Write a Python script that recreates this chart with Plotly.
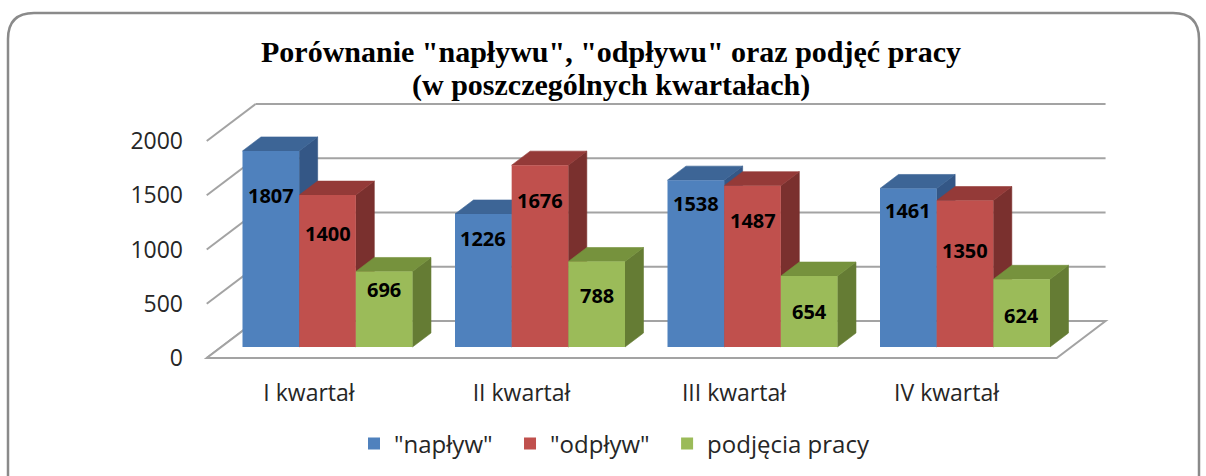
import plotly.graph_objects as go

# ---------------- data ----------------
categories = ["I kwartał", "II kwartał", "III kwartał", "IV kwartał"]
series_names = ['"napływ"', '"odpływ"', "podjęcia pracy"]
naplyw = [1807, 1226, 1538, 1461]
odplyw = [1400, 1676, 1487, 1350]
podjecia = [696, 788, 654, 624]
y_ticks = [0, 500, 1000, 1500, 2000]
title_lines = ['Porównanie "napływu", "odpływu" oraz podjęć pracy', "(w poszczególnych kwartałach)"]

series = [naplyw, odplyw, podjecia]

# ---------------- style ----------------
front_colors = ["#4F81BD", "#C0504D", "#9BBB59"]
top_colors = ["#3D6596", "#943A38", "#76923D"]
side_colors = ["#345786", "#7A302E", "#657C34"]
label_drop_px = [[45, 25, 23, 22], [38, 35, 35, 50], [18, 34, 35, 36]]
legend_pad = ["\u00a0\u00a0", "\u00a0\u00a0", ""]
TXT = "#262626"
GRID = "#A3A3A3"

W, H = 1206, 476
L, R, T, B = 195, 1112, 100, 362      # plot area in px
PXX = 212.5                           # px per category
PXY = 0.1085                          # px per value unit
X0_PX = 327.5                         # px of first category centre (bar front plane)
ZERO_PX = 347                         # px of value 0 (bar front plane)
GROUP_W = 0.8
BW = GROUP_W / 3

x_range = [-(X0_PX - L) / PXX, (R - X0_PX) / PXX]
y_range = [-(B - ZERO_PX) / PXY, (ZERO_PX - T) / PXY]


def depth(px_up):
    """depth vector in data units for a given vertical pixel rise"""
    return px_up * 1.32 / PXX, px_up / PXY


BAR_DX, BAR_DY = depth(14)
FLOOR_DX, FLOOR_DY = depth(-11)
WALL_DX, WALL_DY = depth(26)
LABEL_DX = 18.5 / PXX


def px(xp):
    return (xp - L) / (R - L)


def py(yp):
    return (B - yp) / (B - T)


fig = go.Figure()

# side and top faces (base subplot, under the front faces)
for i, vals in enumerate(series):
    sx, sy, tx, ty = [], [], [], []
    for g, v in enumerate(vals):
        left = g - GROUP_W / 2 + i * BW
        right = left + BW
        sx += [right, right + BAR_DX, right + BAR_DX, right, right, None]
        sy += [0, BAR_DY, v + BAR_DY, v, 0, None]
        tx += [left, right, right + BAR_DX, left + BAR_DX, left, None]
        ty += [v, v, v + BAR_DY, v + BAR_DY, v, None]
    fig.add_trace(go.Scatter(x=sx, y=sy, mode="lines", fill="toself",
                             fillcolor=side_colors[i], line=dict(color=side_colors[i], width=0.6),
                             showlegend=False, hoverinfo="skip", xaxis="x", yaxis="y"))
    fig.add_trace(go.Scatter(x=tx, y=ty, mode="lines", fill="toself",
                             fillcolor=top_colors[i], line=dict(color=top_colors[i], width=0.6),
                             showlegend=False, hoverinfo="skip", xaxis="x", yaxis="y"))

# front faces (real bars, overlay subplot)
xs = list(range(len(categories)))
for i, vals in enumerate(series):
    fig.add_trace(go.Bar(x=xs, y=vals, width=BW, offset=-GROUP_W / 2 + i * BW,
                         name=series_names[i] + legend_pad[i],
                         marker=dict(color=front_colors[i], line=dict(width=0)),
                         xaxis="x2", yaxis="y2", hoverinfo="y"))

# invisible anchor for the label axes
fig.add_trace(go.Scatter(x=[0], y=[0], mode="markers", marker=dict(opacity=0),
                         showlegend=False, hoverinfo="skip", xaxis="x3", yaxis="y3"))

# data labels
annotations = []
for i, vals in enumerate(series):
    for g, v in enumerate(vals):
        annotations.append(dict(x=g - GROUP_W / 2 + (i + 0.5) * BW, y=v, xref="x2", yref="y2",
                                yshift=-label_drop_px[i][g], text=str(v), showarrow=False,
                                yanchor="middle",
                                font=dict(family="Open Sans", size=20, color="black", weight="bold")))

# title (two lines)
for line, yc in zip(title_lines, [52, 85]):
    annotations.append(dict(x=px(611), y=py(yc), xref="paper", yref="paper", text="<b>" + line + "</b>",
                            showarrow=False, xanchor="center", yanchor="middle",
                            font=dict(family="Liberation Serif", size=30, color="black")))

# walls and floor
shapes = []
xl, xr = -0.5, len(categories) - 0.5
for t in y_ticks:
    shapes.append(dict(type="line", xref="x", yref="y", layer="below",
                       x0=xl + WALL_DX, x1=xr + WALL_DX, y0=t + WALL_DY, y1=t + WALL_DY,
                       line=dict(color=GRID, width=2)))
    shapes.append(dict(type="line", xref="x", yref="y", layer="below",
                       x0=xl + FLOOR_DX, x1=xl + WALL_DX, y0=t + FLOOR_DY, y1=t + WALL_DY,
                       line=dict(color=GRID, width=2)))
floor = "M {a},{b} L {c},{b} L {d},{e} L {f},{e} Z".format(
    a=xl + FLOOR_DX, b=FLOOR_DY, c=xr + FLOOR_DX, d=xr + WALL_DX, e=WALL_DY, f=xl + WALL_DX)
shapes.append(dict(type="path", path=floor, xref="x", yref="y", layer="below",
                   fillcolor="white", line=dict(color=GRID, width=2)))

# rounded outer border (paper coordinates)
bl, bt, br, bb, rad = 8, 13, 1199, 479, 26
border = ("M {x0},{yb} L {x0},{y1} Q {x0},{yt} {x1},{yt} L {x2},{yt} Q {x3},{yt} {x3},{y1} "
          "L {x3},{yb}").format(x0=px(bl), x1=px(bl + rad), x2=px(br - rad), x3=px(br),
                                yt=py(bt), y1=py(bt + rad), yb=py(bb))
shapes.append(dict(type="path", path=border, xref="paper", yref="paper", layer="above",
                   line=dict(color="#8A8A8A", width=2.5)))

hidden = dict(showgrid=False, zeroline=False, showticklabels=False, showline=False,
              ticks="", fixedrange=True)

fig.update_layout(
    width=W, height=H, autosize=False,
    margin=dict(l=L, r=W - R, t=T, b=H - B, pad=0),
    paper_bgcolor="white", plot_bgcolor="rgba(0,0,0,0)",
    xaxis=dict(range=x_range, **hidden),
    yaxis=dict(range=y_range, **hidden),
    xaxis2=dict(range=x_range, overlaying="x", anchor="y2", **hidden),
    yaxis2=dict(range=y_range, overlaying="y", anchor="x2", **hidden),
    xaxis3=dict(range=[x_range[0] + LABEL_DX, x_range[1] + LABEL_DX], overlaying="x", anchor="y3",
                tickvals=xs, ticktext=categories, showgrid=False, zeroline=False, showline=False,
                ticks="", ticklabelstandoff=15, fixedrange=True,
                tickfont=dict(family="Open Sans", size=23, color=TXT)),
    yaxis3=dict(range=[y_range[0] - FLOOR_DY, y_range[1] - FLOOR_DY], overlaying="y", anchor="x3",
                tickvals=y_ticks, showgrid=False, zeroline=False, showline=False,
                ticks="", ticklabelstandoff=11, fixedrange=True,
                tickfont=dict(family="Open Sans", size=23, color=TXT)),
    showlegend=True,
    legend=dict(orientation="h", x=354 / W, xanchor="left", xref="container",
                y=1 - 444 / H, yanchor="middle", yref="container",
                font=dict(family="Open Sans", size=24, color=TXT), traceorder="normal",
                bgcolor="rgba(0,0,0,0)"),
    annotations=annotations,
    shapes=shapes,
    barmode="group",
    hovermode=False,
)

fig.write_html("out.html", config={"displayModeBar": False},
               post_script="document.body.style.margin='0';")
